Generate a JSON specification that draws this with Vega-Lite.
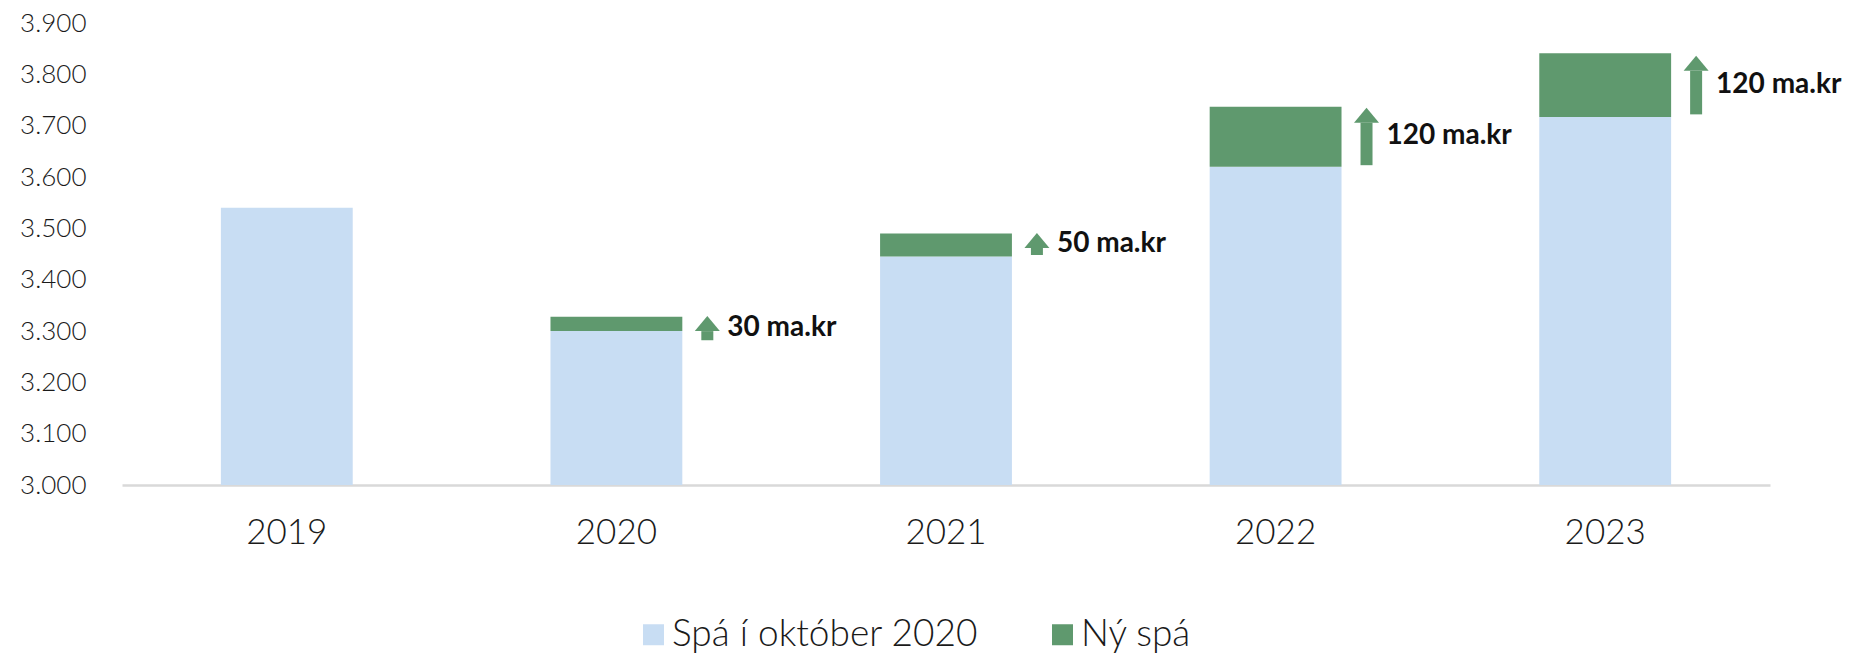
{
  "$schema": "https://vega.github.io/schema/vega-lite/v6.json",
  "autosize": {"type": "none"},
  "padding": {"left": 122, "top": 23, "right": 105, "bottom": 171},
  "width": 1648,
  "height": 462,
  "background": "white",
  "config": {
    "view": {"stroke": null},
    "font": "Lato"
  },
  "datasets": {
    "bars": [
      {"year": "2019", "series": "Spá í október 2020", "value": 3540},
      {"year": "2020", "series": "Spá í október 2020", "value": 3300},
      {"year": "2020", "series": "Ný spá", "value": 28},
      {"year": "2021", "series": "Spá í október 2020", "value": 3445},
      {"year": "2021", "series": "Ný spá", "value": 45},
      {"year": "2022", "series": "Spá í október 2020", "value": 3620},
      {"year": "2022", "series": "Ný spá", "value": 117},
      {"year": "2023", "series": "Spá í október 2020", "value": 3717},
      {"year": "2023", "series": "Ný spá", "value": 124}
    ],
    "arrows": [
      {"year": "2020", "lo": 3282, "tip": 3329, "mid": 3306, "label": "30 ma.kr"},
      {"year": "2021", "lo": 3448, "tip": 3491, "mid": 3469, "label": "50 ma.kr"},
      {"year": "2022", "lo": 3623, "tip": 3735, "mid": 3680, "label": "120 ma.kr"},
      {"year": "2023", "lo": 3722, "tip": 3836, "mid": 3779, "label": "120 ma.kr"}
    ]
  },
  "encoding": {
    "x": {
      "field": "year",
      "type": "ordinal",
      "scale": {"paddingInner": 0.6, "paddingOuter": 0.3},
      "axis": {
        "title": null,
        "labelAngle": 0,
        "labelFont": "Lato",
        "labelFontWeight": 300,
        "labelFontSize": 35,
        "labelColor": "#1a1a1a",
        "labelPadding": 30,
        "ticks": false,
        "grid": false,
        "domain": true,
        "domainColor": "#d9d9d9",
        "domainWidth": 2.5
      }
    }
  },
  "layer": [
    {
      "data": {"name": "bars"},
      "mark": {"type": "bar", "clip": true},
      "encoding": {
        "y": {
          "field": "value",
          "type": "quantitative",
          "stack": "zero",
          "scale": {"domain": [3000, 3900], "zero": false, "nice": false},
          "axis": {
            "title": null,
            "values": [3000, 3100, 3200, 3300, 3400, 3500, 3600, 3700, 3800, 3900],
            "labelExpr": "replace(format(datum.value, ','), ',', '.')",
            "labelFont": "Lato",
            "labelFontWeight": 300,
            "labelFontSize": 26,
            "labelColor": "#1a1a1a",
            "labelPadding": 36,
            "ticks": false,
            "domain": false,
            "grid": false
          }
        },
        "color": {
          "field": "series",
          "type": "nominal",
          "scale": {"domain": ["Spá í október 2020", "Ný spá"], "range": ["#C8DDF3", "#5F996E"]},
          "legend": {
            "title": null,
            "orient": "none",
            "direction": "horizontal",
            "legendX": 513,
            "legendY": 593,
            "symbolType": "square",
            "symbolSize": 441,
            "symbolStrokeWidth": 0,
            "symbolOpacity": 1,
            "labelFont": "Lato",
            "labelFontWeight": 300,
            "labelFontSize": 37,
            "labelColor": "#1a1a1a",
            "labelOffset": 0,
            "columnPadding": 65,
            "labelLimit": 600
          }
        },
        "order": {"field": "series", "sort": "descending"}
      }
    },
    {
      "data": {"name": "arrows"},
      "mark": {"type": "rule", "color": "#5F996E", "strokeWidth": 12, "strokeCap": "butt", "xOffset": 25, "y2Offset": 15},
      "encoding": {
        "x": {"field": "year", "type": "ordinal", "bandPosition": 1},
        "y": {"field": "lo", "type": "quantitative"},
        "y2": {"field": "tip"}
      }
    },
    {
      "data": {"name": "arrows"},
      "mark": {"type": "point", "shape": "M0,0L1,1.2L-1,1.2Z", "size": 625, "filled": true, "opacity": 1, "color": "#5F996E", "strokeWidth": 0, "xOffset": 25},
      "encoding": {
        "x": {"field": "year", "type": "ordinal", "bandPosition": 1},
        "y": {"field": "tip", "type": "quantitative"}
      }
    },
    {
      "data": {"name": "arrows"},
      "mark": {"type": "text", "align": "left", "baseline": "middle", "font": "Lato", "fontWeight": "bold", "fontSize": 28, "color": "#111111", "xOffset": 45},
      "encoding": {
        "x": {"field": "year", "type": "ordinal", "bandPosition": 1},
        "y": {"field": "mid", "type": "quantitative"},
        "text": {"field": "label"}
      }
    }
  ]
}
